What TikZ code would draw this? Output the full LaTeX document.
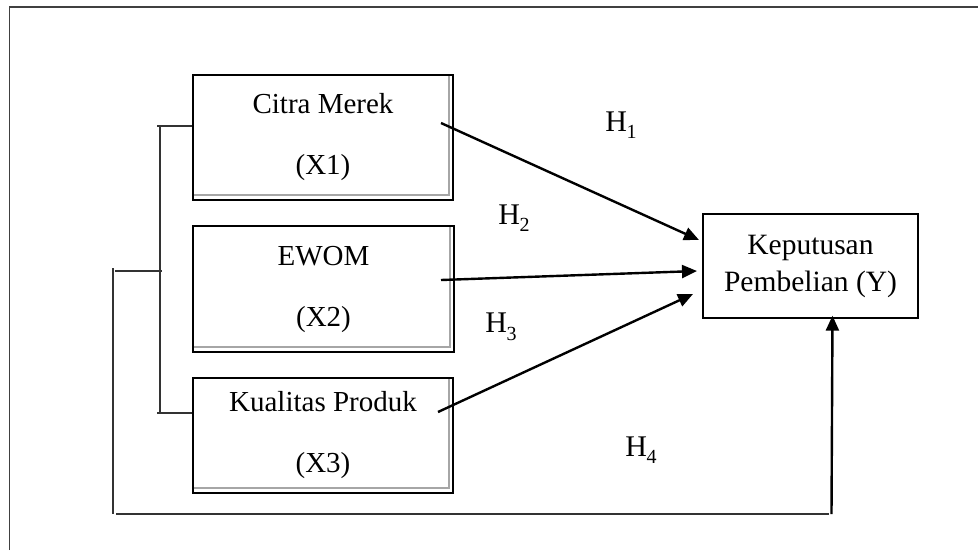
\documentclass[tikz,border=0pt]{standalone}
\usepackage{fontspec}
\setmainfont{Liberation Serif}
\usetikzlibrary{arrows.meta}
\newcommand{\hsub}[2]{#1\kern-0.5pt\raisebox{-0.25em}{\fontsize{20}{20}\selectfont #2}}
\begin{document}
\begin{tikzpicture}[x=1pt,y=-1pt,
  varbox/.style={draw=black,line width=2pt,align=center,font=\fontsize{29}{61}\selectfont,inner sep=0pt},
  ybox/.style={draw=black,line width=1.3pt,align=center,font=\fontsize{29.5}{37}\selectfont,inner sep=0pt,minimum width=215pt,minimum height=104pt},
  inner/.style={draw=gray!70,line width=1.2pt},
  brk/.style={draw=black!80,line width=1.4pt},
  arr/.style={line width=2.4pt,-{Triangle[length=15pt,width=13pt]}},
  hlab/.style={font=\fontsize{30}{30}\selectfont,inner sep=0pt}]
\useasboundingbox (0,0) rectangle (978,550);
% frame
\draw[line width=1.5pt,draw=black!75] (9.5,550) -- (9.5,7) -- (978,7);
% boxes
\node[varbox,minimum width=260pt,minimum height=125pt] (x1) at (323,137.5) {Citra Merek\\(X1)};
\node[varbox,minimum width=261pt,minimum height=126pt] (x2) at (323.5,289) {EWOM\\(X2)};
\node[varbox,minimum width=260pt,minimum height=115pt] (x3) at (323,435.5) {Kualitas Produk\\(X3)};
\node[ybox] (y) at (810.5,266) {Keputusan\\Pembelian (Y)};
% inner gray lines
\draw[inner] ([xshift=-5pt,yshift=-2pt]x1.north east) -- ([xshift=-5pt,yshift=6pt]x1.south east) -- ([xshift=2pt,yshift=6pt]x1.south west);
\draw[inner] ([xshift=-5pt,yshift=-2pt]x2.north east) -- ([xshift=-5pt,yshift=6pt]x2.south east) -- ([xshift=2pt,yshift=6pt]x2.south west);
\draw[inner] ([xshift=-5pt,yshift=-2pt]x3.north east) -- ([xshift=-5pt,yshift=6pt]x3.south east) -- ([xshift=2pt,yshift=6pt]x3.south west);
% bracket
\coordinate (b1) at (160,126);
\coordinate (b3) at (160,413);
\coordinate (bm) at (162,271);
\coordinate (om) at (113,268);
\coordinate (ob) at (113,514);
\coordinate (bl) at (116,514);
\coordinate (br) at (829,514);
\coordinate (h4s) at (831.5,514);
\draw[brk] (x1.west |- b1) -- (157,126) (b1) -- (b3) (157,413) -- (x3.west |- b3);
\draw[brk] (115,271) -- (bm);
\draw[brk] (om) -- (ob);
\draw[brk] (bl) -- (br);
% arrows
\coordinate (s1) at (441,123);
\coordinate (e1) at (699,240);
\coordinate (s2) at (441,280);
\coordinate (e2) at (697,271);
\coordinate (s3) at (438,412);
\coordinate (e3) at (693,294);
\draw[arr] (s1) -- (e1);
\draw[arr] (s2) -- (e2);
\draw[arr] (s3) -- (e3);
\draw[arr] (h4s) -- ([xshift=1pt,yshift=3pt]y.south -| h4s);
% labels
\node[hlab] (l1) at (621,125) {\hsub{H}{1}};
\node[hlab] (l2) at (514,218) {\hsub{H}{2}};
\node[hlab] (l3) at (501,327) {\hsub{H}{3}};
\node[hlab] (l4) at (641,450) {\hsub{H}{4}};
\end{tikzpicture}
\end{document}
